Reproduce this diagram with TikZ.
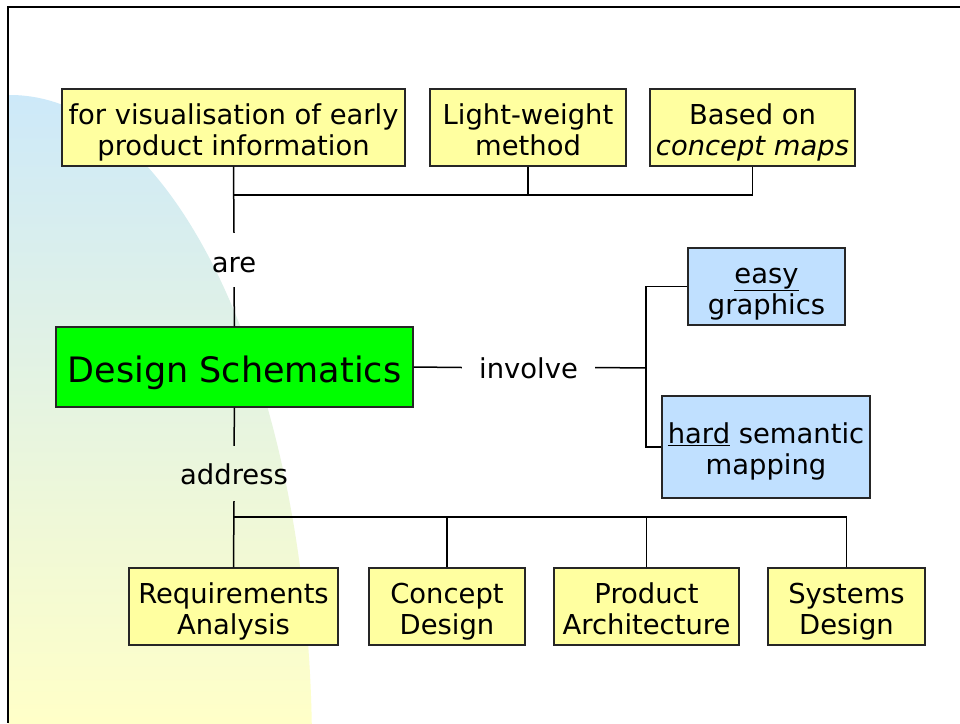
\documentclass[tikz,border=0pt]{standalone}
\usepackage{fontspec}
\setmainfont{DejaVu Sans}
\newcommand\topstrut{\rule{0pt}{33pt}}
\newcommand\botstrut{\rule[-9pt]{0pt}{9pt}}
\begin{document}
\begin{tikzpicture}[x=1pt,y=-1pt,
  box/.style={draw=black!85,line width=1.3pt,align=center,inner sep=0pt,
    font=\fontsize{27.4}{31}\selectfont},
  ybox/.style={box,fill=yellowfill},
  bbox/.style={box,fill=bluefill},
  lab/.style={inner sep=0pt,font=\fontsize{27.4}{31}\selectfont,
    text height=22pt,text depth=0pt},
  conn/.style={line width=1.5pt,black}]
\definecolor{yellowfill}{RGB}{255,255,160}
\definecolor{bluefill}{RGB}{192,224,255}
\definecolor{greenfill}{RGB}{0,255,0}
\definecolor{bgblue}{RGB}{205,233,249}
\definecolor{bgyellow}{RGB}{255,255,200}
\useasboundingbox (0,0) rectangle (960,723);
\fill[white] (0,0) rectangle (960,723);
% background shape
\begin{scope}
\clip (8,7) rectangle (960,723);
\clip (10,750) ellipse [x radius=302, y radius=655];
\shade[top color=bgblue,bottom color=bgyellow] (0,95) rectangle (330,723);
\end{scope}
% frame
\draw[line width=2.5pt] (960,7) -- (8,7) -- (8,723);
% nodes
\node[ybox,minimum width=343pt,minimum height=77pt] (vis) at (233.5,127.5)
  {\topstrut for visualisation of early\\product information\botstrut};
\node[ybox,minimum width=196pt,minimum height=77pt] (light) at (528,127.5)
  {\topstrut Light-weight\\method\botstrut};
\node[ybox,minimum width=205pt,minimum height=77pt] (based) at (752.5,127.5)
  {\topstrut Based on\\\textit{concept maps}\botstrut};
\node[draw=black!85,line width=1.3pt,inner sep=0pt,fill=greenfill,
  minimum width=357pt,minimum height=80pt,text height=30pt,text depth=0pt,
  font=\fontsize{35}{40}\selectfont] (ds) at (234.5,367) {Design Schematics};
\node[bbox,minimum width=157pt,minimum height=77pt] (easy) at (766.5,286.5)
  {\topstrut\underline{easy}\\graphics\botstrut};
\node[bbox,minimum width=208pt,minimum height=102pt] (hard) at (766,447)
  {\topstrut\underline{hard} semantic\\mapping\botstrut};
\node[ybox,minimum width=209pt,minimum height=77pt] (req) at (233.5,606.5)
  {\topstrut Requirements\\Analysis\botstrut};
\node[ybox,minimum width=156pt,minimum height=77pt] (conc) at (447,606.5)
  {\topstrut Concept\\Design\botstrut};
\node[ybox,minimum width=185pt,minimum height=77pt] (prod) at (646.5,606.5)
  {\topstrut Product\\Architecture\botstrut};
\node[ybox,minimum width=157pt,minimum height=77pt] (sys) at (846.5,606.5)
  {\topstrut Systems\\Design\botstrut};
% labels
\node[lab,minimum height=54pt,text height=24pt] (are) at (234,260) {are};
\node[lab,minimum height=55pt] (address) at (234,473.5) {address};
\node[lab,minimum width=133pt] (involve) at (528.5,367.5) {involve};
% junctions
\coordinate (tj) at (234,195);
\coordinate (bj) at (234,517);
\coordinate (ij) at (646,368);
% connectors
\draw[conn] (vis.south) -- (are.north);
\draw[conn] (light.south) |- (tj);
\draw[conn] (based.south) |- (tj);
\draw[conn] (are.south) -- (ds.north);
\draw[conn] (ds.south) -- (address.north);
\draw[conn] (address.south) -- (req.north);
\draw[conn] (conc.north) |- (bj);
\draw[conn] (prod.north) |- (bj);
\draw[conn] (sys.north) |- (bj);
\draw[conn] (ds.east) -- (involve.west);
\draw[conn] (involve.east) -- (ij);
\draw[conn] (easy.west) -| (ij);
\draw[conn] (hard.west) -| (ij);
\end{tikzpicture}
\end{document}
